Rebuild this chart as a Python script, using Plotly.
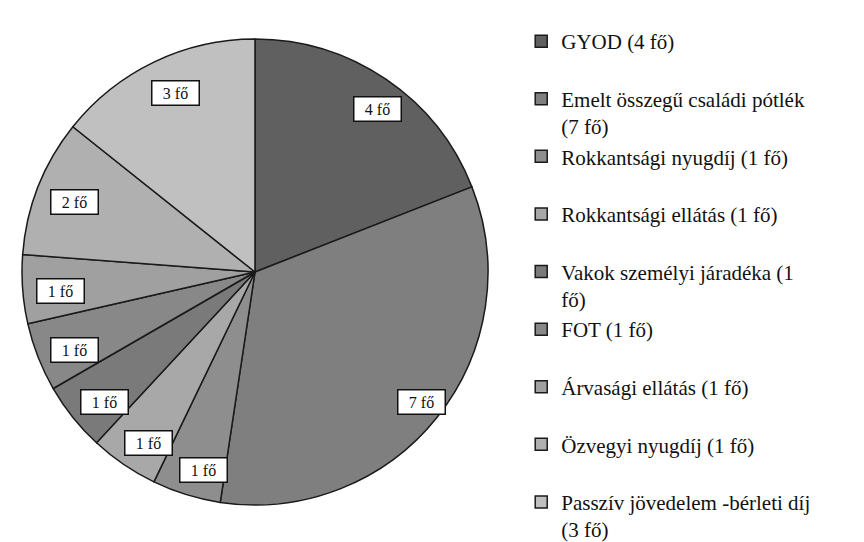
import math
import plotly.graph_objects as go

labels = [
    "GYOD (4 fő)",
    "Emelt összegű családi pótlék<br>(7 fő)",
    "Rokkantsági nyugdíj (1 fő)",
    "Rokkantsági ellátás (1 fő)",
    "Vakok személyi járadéka (1<br>fő)",
    "FOT (1 fő)",
    "Árvasági ellátás (1 fő)",
    "Özvegyi nyugdíj (1 fő)",
    "Passzív jövedelem -bérleti díj<br>(3 fő)",
]
values = [4, 7, 1, 1, 1, 1, 1, 2, 3]
slice_text = ["4 fő", "7 fő", "1 fő", "1 fő", "1 fő", "1 fő", "1 fő", "2 fő", "3 fő"]
colors = ["#606060", "#7f7f7f", "#8e8e8e", "#a8a8a8", "#7a7a7a",
          "#888888", "#a0a0a0", "#b0b0b0", "#c0c0c0"]

W, H = 864, 542
cx, cy, R = 247, 264, 233
SERIF = "Times New Roman, Liberation Serif, DejaVu Serif, serif"

# single-line legend entries get an extra blank line for spacing
legend_labels = [l if "<br>" in l else l + "<br> " for l in labels]

fig = go.Figure(go.Pie(
    labels=legend_labels,
    values=values,
    sort=False,
    direction="clockwise",
    rotation=0,
    marker=dict(colors=colors, line=dict(color="#1a1a1a", width=1.5)),
    textinfo="none",
    hoverinfo="label+value",
    domain=dict(x=[(cx - R) / W, (cx + R) / W], y=[1 - (cy + R) / H, 1 - (cy - R) / H]),
))

# rendered pie centre (plotly offsets the pie slightly inside its domain)
pcx, pcy = cx + 8, cy + 4
total = sum(values)
cum = 0
annotations = []
for v, t in zip(values, slice_text):
    theta = (cum + v / 2) / total * 2 * math.pi
    cum += v
    r = 0.87 * R
    xp = pcx + r * math.sin(theta)
    yp = pcy - r * math.cos(theta)
    annotations.append(dict(
        x=xp / W, y=1 - yp / H, xref="paper", yref="paper",
        xanchor="center", yanchor="middle",
        text=t, showarrow=False,
        font=dict(family=SERIF, size=16, color="#111"),
        bgcolor="white", bordercolor="#111", borderwidth=1.5, borderpad=3,
        width=40, height=17,
    ))

fig.update_layout(
    width=W, height=H,
    margin=dict(l=0, r=0, t=0, b=0),
    paper_bgcolor="white",
    plot_bgcolor="white",
    annotations=annotations,
    showlegend=True,
    legend=dict(
        x=0.594, y=0.935, xanchor="left", yanchor="top",
        font=dict(family=SERIF, size=21, color="#111"),
        valign="top",
        bgcolor="rgba(0,0,0,0)",
    ),
)

fig.write_html("out.html")
